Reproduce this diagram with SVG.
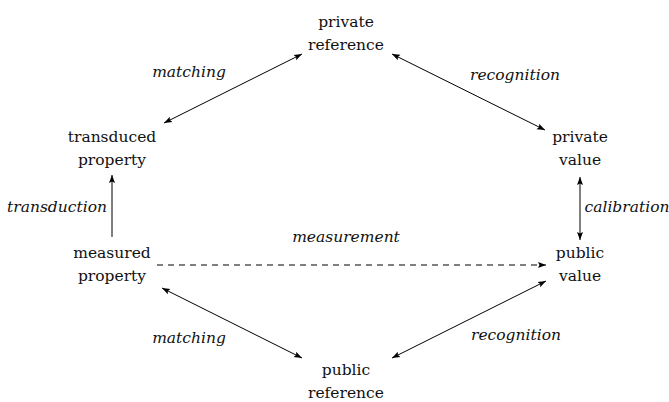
<svg xmlns="http://www.w3.org/2000/svg" width="669" height="402" viewBox="0 0 669 402">
<style>
.n{font-family:"DejaVu Serif","Liberation Serif",serif;font-size:15.5px;fill:#111;text-anchor:middle}
.l{font-family:"DejaVu Serif","Liberation Serif",serif;font-size:15.5px;font-style:italic;fill:#111;text-anchor:middle}
.c{stroke:#000;stroke-width:1;fill:none}
</style>
<defs>
<marker id="ah" markerUnits="userSpaceOnUse" markerWidth="10" markerHeight="8" refX="8" refY="3" orient="auto-start-reverse" viewBox="0 0 10 6">
<path d="M0,0 L8,3 L0,6 L1.5,3 z" fill="#000"/>
</marker>
</defs>
<g id="connectors">
<line class="c" x1="164" y1="123" x2="302" y2="54" marker-start="url(#ah)" marker-end="url(#ah)"/>
<line class="c" x1="392" y1="54" x2="545" y2="130" marker-start="url(#ah)" marker-end="url(#ah)"/>
<line class="c" x1="112" y1="237" x2="112" y2="175" marker-end="url(#ah)"/>
<line class="c" x1="580" y1="177" x2="580" y2="240" marker-start="url(#ah)" marker-end="url(#ah)"/>
<line class="c" x1="157" y1="265" x2="546" y2="265" stroke-dasharray="6 5" marker-end="url(#ah)"/>
<line class="c" x1="162" y1="288" x2="302" y2="358" marker-start="url(#ah)" marker-end="url(#ah)"/>
<line class="c" x1="392" y1="358" x2="546" y2="281" marker-start="url(#ah)" marker-end="url(#ah)"/>
<text class="l" x="189" y="77">matching</text>
<text class="l" x="515" y="80">recognition</text>
<text class="l" x="57" y="212">transduction</text>
<text class="l" x="627" y="212">calibration</text>
<text class="l" x="346" y="242">measurement</text>
<text class="l" x="189" y="343">matching</text>
<text class="l" x="516" y="340">recognition</text>
</g>
<g id="private-reference"><text class="n" x="346" y="27">private</text><text class="n" x="346" y="50">reference</text></g>
<g id="transduced-property"><text class="n" x="112" y="142">transduced</text><text class="n" x="112" y="165">property</text></g>
<g id="private-value"><text class="n" x="580" y="142">private</text><text class="n" x="580" y="165">value</text></g>
<g id="measured-property"><text class="n" x="112" y="258">measured</text><text class="n" x="112" y="281">property</text></g>
<g id="public-value"><text class="n" x="580" y="258">public</text><text class="n" x="580" y="281">value</text></g>
<g id="public-reference"><text class="n" x="346" y="375">public</text><text class="n" x="346" y="398">reference</text></g>
</svg>
